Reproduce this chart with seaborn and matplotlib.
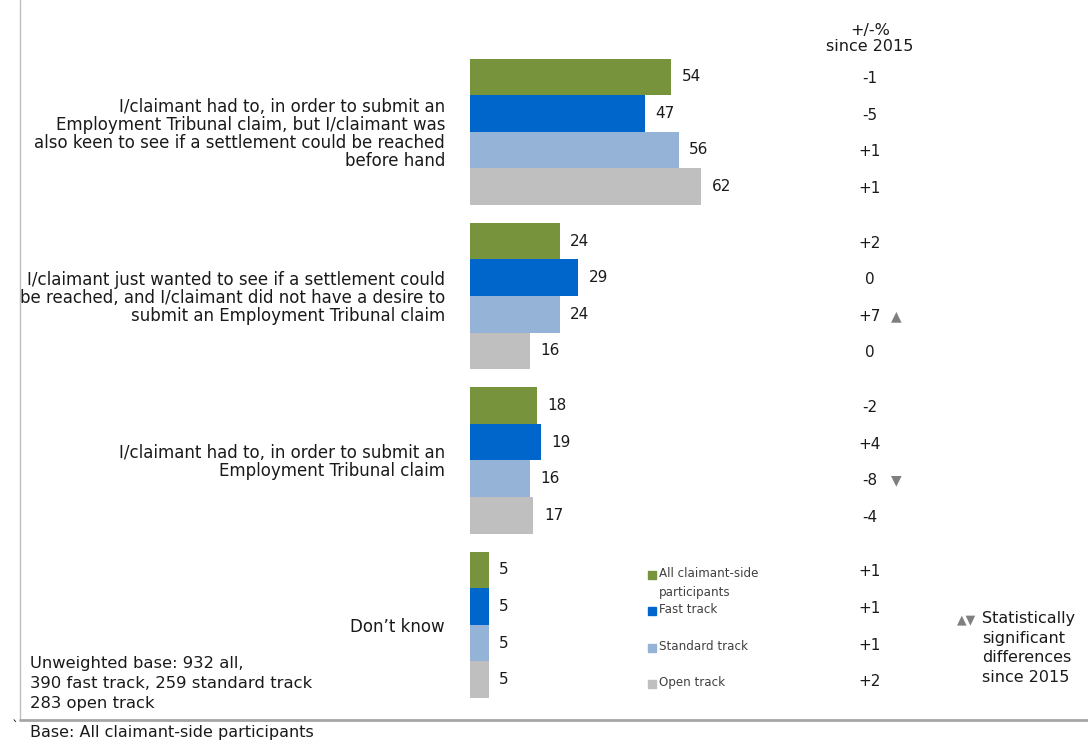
import matplotlib
matplotlib.use("Agg")
import matplotlib.pyplot as plt
import matplotlib.transforms as mtransforms
from matplotlib.lines import Line2D
import seaborn as sns
import pandas as pd

categories = [
    "I/claimant had to, in order to submit an\nEmployment Tribunal claim, but I/claimant was\nalso keen to see if a settlement could be reached\nbefore hand",
    "I/claimant just wanted to see if a settlement could\nbe reached, and I/claimant did not have a desire to\nsubmit an Employment Tribunal claim",
    "I/claimant had to, in order to submit an\nEmployment Tribunal claim",
    "Don\u2019t know",
]
tracks = ["All claimant-side participants", "Fast track", "Standard track", "Open track"]
legend_labels = ["All claimant-side\nparticipants", "Fast track", "Standard track", "Open track"]
all_claimant = [54, 24, 18, 5]
fast_track = [47, 29, 19, 5]
standard_track = [56, 24, 16, 5]
open_track = [62, 16, 17, 5]
change_all = ["-1", "+2", "-2", "+1"]
change_fast = ["-5", "0", "+4", "+1"]
change_standard = ["+1", "+7", "-8", "+1"]
change_open = ["+1", "0", "-4", "+2"]
sig_standard = ["", "\u25b2", "\u25bc", ""]
colors = ["#77933C", "#0066CC", "#95B3D7", "#BFBFBF"]

series = [all_claimant, fast_track, standard_track, open_track]
changes = [change_all, change_fast, change_standard, change_open]
rows = []
for t, vals in zip(tracks, series):
    for c, v in zip(categories, vals):
        rows.append({"category": c, "track": t, "value": v})
df = pd.DataFrame(rows)

sns.set_style("white")
plt.rcParams["font.family"] = ["DejaVu Sans"]
TXT = "#1a1a1a"

W, H = 1088, 742
fig = plt.figure(figsize=(W / 100, H / 100), dpi=100)
ax = fig.add_axes([470 / W, (H - 707) / H, (800 - 470) / W, 657.5 / H])

sns.barplot(data=df, y="category", x="value", hue="track", order=categories,
            hue_order=tracks, palette=colors, saturation=1, orient="h",
            width=0.89, dodge=True, linewidth=0, ax=ax, legend=False)
ax.set_xlim(0, (800 - 470) / 3.73)
ax.set_ylim(3.5, -0.5)
for cont in ax.containers:
    ax.bar_label(cont, padding=7.5, fontsize=11, color=TXT)

ax.set_xlabel("")
ax.set_ylabel("")
ax.set_xticks([])
ax.tick_params(axis="y", length=0, pad=18, labelsize=12, labelcolor=TXT)
for lab in ax.get_yticklabels():
    lab.set_linespacing(1.0)
for s in ax.spines.values():
    s.set_visible(False)
ax.patch.set_alpha(0)

# change column
trans = mtransforms.blended_transform_factory(fig.transFigure, ax.transData)
bar_h = 0.89 / 4
offsets = [(-1.5 + k) * bar_h for k in range(4)]
for k in range(4):
    for i in range(len(categories)):
        y = i + offsets[k] + 0.012
        ax.text(870 / W, y, changes[k][i], transform=trans, ha="center",
                va="center", fontsize=11, color=TXT)
        if k == 2 and sig_standard[i]:
            ax.text(896 / W, y, sig_standard[i], transform=trans, ha="center",
                    va="center", fontsize=10, color="#7f7f7f")

fig.text(870 / W, 1 - 38.5 / H, "+/-%\nsince 2015", ha="center", va="center",
         fontsize=11.5, color=TXT, linespacing=1.05)

# legend
legend_y = [575, 611, 648, 684]
for k in range(4):
    yf = 1 - legend_y[k] / H
    fig.add_artist(Line2D([652 / W], [yf], marker="s", markersize=6.3,
                          color=colors[k], linestyle="none"))
    fig.text(659 / W, yf + 8 / H, legend_labels[k], ha="left", va="top",
             fontsize=8.6, color="#404040", linespacing=1.6)

# significance note
fig.text(957 / W, 1 - 620 / H, "\u25b2\u25bc", ha="left", va="center",
         fontsize=9, color="#7f7f7f")
fig.text(982 / W, 1 - 611 / H, "Statistically\nsignificant\ndifferences\nsince 2015",
         ha="left", va="top", fontsize=11.5, color=TXT, linespacing=1.38)

# base note
fig.text(30 / W, 1 - 656 / H,
         "Unweighted base: 932 all,\n390 fast track, 259 standard track\n283 open track",
         ha="left", va="top", fontsize=11.8, color=TXT, linespacing=1.4)

# frame lines
fig.add_artist(Line2D([20 / W, 20 / W], [1 - 720 / H, 1], color="#bfbfbf", lw=1))
fig.add_artist(Line2D([20 / W, 1], [1 - 720 / H, 1 - 720 / H], color="#a6a6a6", lw=2))
fig.text(30 / W, 1 - 733 / H, "Base: All claimant-side participants", ha="left",
         va="center", fontsize=11.5, color=TXT)
fig.text(12 / W, 1 - 727 / H, "`", ha="left", va="center", fontsize=10, color=TXT)

fig.savefig("out.png", dpi=100)
